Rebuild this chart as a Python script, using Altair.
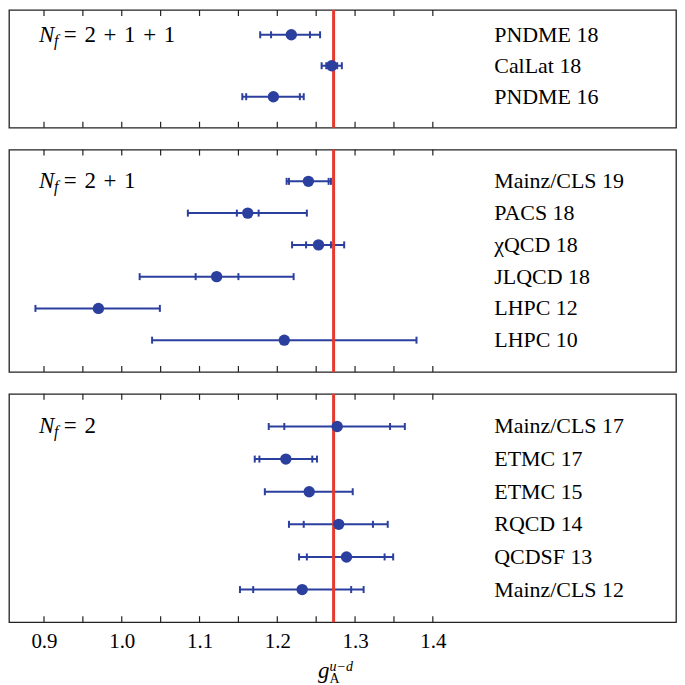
import altair as alt
import pandas as pd

# ---------------- data ----------------
GA_EXP = 1.2724

p1_labels = ["PNDME 18", "CalLat 18", "PNDME 16"]
p1_val = [1.218, 1.270, 1.195]
p1_in_lo = [1.192, 1.263, 1.160]
p1_in_hi = [1.242, 1.277, 1.229]
p1_out_lo = [1.178, 1.257, 1.155]
p1_out_hi = [1.255, 1.283, 1.234]

p2_labels = ["Mainz/CLS 19", "PACS 18", "χQCD 18", "JLQCD 18", "LHPC 12", "LHPC 10"]
p2_val = [1.240, 1.162, 1.253, 1.122, 0.970, 1.209]
p2_in_lo = [1.215, 1.148, 1.237, 1.095, None, None]
p2_in_hi = [1.266, 1.176, 1.269, 1.150, None, None]
p2_out_lo = [1.212, 1.085, 1.219, 1.023, 0.889, 1.039]
p2_out_hi = [1.269, 1.238, 1.286, 1.221, 1.049, 1.379]

p3_labels = ["Mainz/CLS 17", "ETMC 17", "ETMC 15", "RQCD 14", "QCDSF 13", "Mainz/CLS 12"]
p3_val = [1.277, 1.211, 1.241, 1.279, 1.289, 1.232]
p3_in_lo = [1.209, 1.177, None, 1.234, 1.238, 1.169]
p3_in_hi = [1.345, 1.245, None, 1.323, 1.338, 1.295]
p3_out_lo = [1.189, 1.171, 1.184, 1.215, 1.228, 1.152]
p3_out_hi = [1.364, 1.251, 1.297, 1.342, 1.349, 1.311]

SP = "\u2004"
nf_texts = ["=" + SP + "2" + SP + "+" + SP + "1" + SP + "+" + SP + "1",
            "=" + SP + "2" + SP + "+" + SP + "1",
            "=" + SP + "2"]
tick_values = [0.9, 0.95, 1.0, 1.05, 1.1, 1.15, 1.2, 1.25, 1.3, 1.35, 1.4]
label_values = [0.9, 1.0, 1.1, 1.2, 1.3, 1.4]

# ---------------- style ----------------
X_DOMAIN = [0.855, 1.7127]
BLUE = "#2b3f9e"
RED = "#e63a2e"
FONT = "Liberation Serif, Times New Roman, DejaVu Serif, serif"
W = 669
LABEL_X = 1.479
NF_X = [0.8935, 0.9130, 0.9255]

xs = alt.Scale(domain=X_DOMAIN, nice=False, zero=False)
tick_df = pd.DataFrame({"t": tick_values})


def panel(labels, val, in_lo, in_hi, out_lo, out_hi, nf_text, height, ydom, show_labels):
    df = pd.DataFrame(dict(row=list(range(1, len(labels) + 1)), label=labels, val=val,
                           in_lo=in_lo, in_hi=in_hi, out_lo=out_lo, out_hi=out_hi))
    base = alt.Chart(df)
    ys = alt.Scale(domain=ydom, reverse=True, nice=False, zero=False)
    y = alt.Y("row:Q", scale=ys, axis=None)
    if show_labels:
        x_axis = alt.Axis(orient="bottom", values=label_values, format=".1f", ticks=False, tickSize=0,
                          domain=False, grid=False, title=None, labelFont=FONT, labelFontSize=21,
                          labelColor="black", labelPadding=8)
    else:
        x_axis = None

    bars = base.mark_rule(color=BLUE, strokeWidth=2).encode(
        x=alt.X("out_lo:Q", scale=xs, axis=x_axis), x2="out_hi:Q", y=y)
    caps = [base.mark_tick(orient="vertical", color=BLUE, size=7, thickness=2, opacity=1).encode(
        x=alt.X(f"{c}:Q", scale=xs, axis=None), y=y) for c in ["out_lo", "out_hi", "in_lo", "in_hi"]]
    frame_ticks = [alt.Chart(tick_df).mark_tick(orient="vertical", color="#222", size=6, thickness=1.2,
                                                opacity=1).encode(
        x=alt.X("t:Q", scale=xs, axis=None), y=alt.value(yv)) for yv in (3, height - 3)]
    red = alt.Chart(alt.Data(values=[{"g": GA_EXP}])).mark_tick(
        orient="vertical", color=RED, size=height, thickness=3, opacity=1).encode(
        x=alt.X("g:Q", scale=xs, axis=None), y=alt.value(height / 2))
    pts = base.mark_circle(color=BLUE, size=130, opacity=1).encode(
        x=alt.X("val:Q", scale=xs, axis=None), y=y)
    txt = base.mark_text(align="left", baseline="middle", font=FONT, fontSize=22, color="black").encode(
        x=alt.XDatum(LABEL_X, type="quantitative", scale=xs, axis=None), y=y, text="label:N")

    one = alt.Data(values=[{"k": 1}])
    n1 = alt.Chart(one).mark_text(align="left", baseline="middle", font=FONT, fontSize=23,
                                  fontStyle="italic", color="black", text="N").encode(
        x=alt.XDatum(NF_X[0], type="quantitative", scale=xs, axis=None),
        y=alt.YDatum(1, type="quantitative", scale=ys, axis=None))
    n2 = alt.Chart(one).mark_text(align="left", baseline="middle", font=FONT, fontSize=16,
                                  fontStyle="italic", color="black", text="f", dy=6).encode(
        x=alt.XDatum(NF_X[1], type="quantitative", scale=xs, axis=None),
        y=alt.YDatum(1, type="quantitative", scale=ys, axis=None))
    n3 = alt.Chart(one).mark_text(align="left", baseline="middle", font=FONT, fontSize=23,
                                  color="black", text=nf_text).encode(
        x=alt.XDatum(NF_X[2], type="quantitative", scale=xs, axis=None),
        y=alt.YDatum(1, type="quantitative", scale=ys, axis=None))

    layers = [bars] + caps + frame_ticks + [red, pts, txt, n1, n2, n3]
    if show_labels:
        g1 = alt.Chart(one).mark_text(align="left", baseline="alphabetic", font=FONT, fontSize=23,
                                      fontStyle="italic", color="black", text="g").encode(
            x=alt.XDatum(1.2524, type="quantitative", scale=xs, axis=None), y=alt.value(height + 56))
        g2 = alt.Chart(one).mark_text(align="left", baseline="alphabetic", font=FONT, fontSize=14,
                                      color="black", text="A").encode(
            x=alt.XDatum(1.2672, type="quantitative", scale=xs, axis=None), y=alt.value(height + 61))
        g3 = alt.Chart(one).mark_text(align="left", baseline="alphabetic", font=FONT, fontSize=14,
                                      fontStyle="italic", color="black", text="u\u2212d").encode(
            x=alt.XDatum(1.2672, type="quantitative", scale=xs, axis=None), y=alt.value(height + 49))
        layers += [g1, g2, g3]
    return alt.layer(*layers).resolve_axis(x="independent").properties(width=W, height=height)


c1 = panel(p1_labels, p1_val, p1_in_lo, p1_in_hi, p1_out_lo, p1_out_hi, nf_texts[0], 118, [0.2, 4], False)
c2 = panel(p2_labels, p2_val, p2_in_lo, p2_in_hi, p2_out_lo, p2_out_hi, nf_texts[1], 223, [0, 7], False)
c3 = panel(p3_labels, p3_val, p3_in_lo, p3_in_hi, p3_out_lo, p3_out_hi, nf_texts[2], 229, [0, 7], True)

chart = alt.vconcat(c1, c2, c3, spacing=20).resolve_scale(x="independent", y="independent").properties(
    padding=0).configure_view(stroke="#222", strokeWidth=1.3)

chart.save("out.html", embed_options={"renderer": "svg", "actions": False})
